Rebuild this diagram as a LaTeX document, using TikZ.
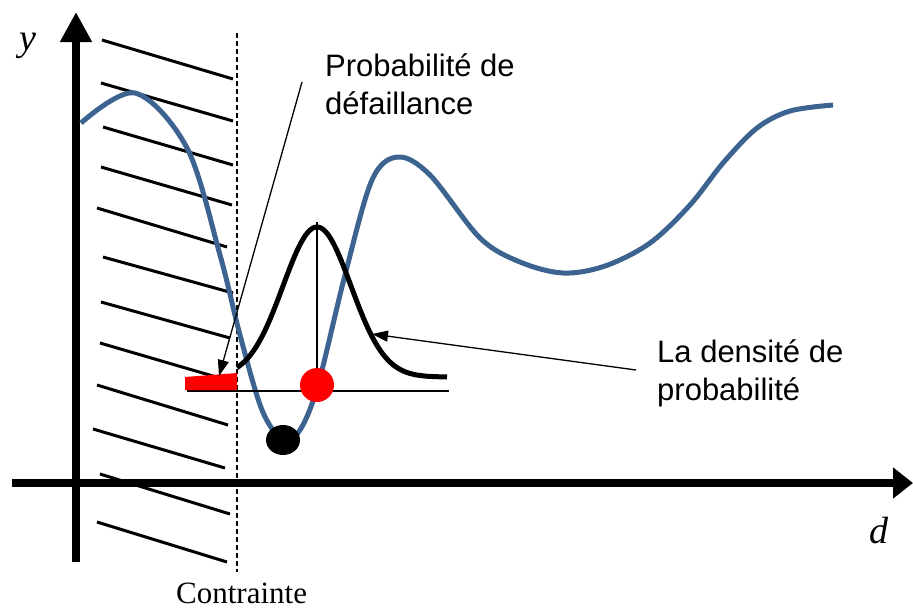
\documentclass[tikz,border=0pt]{standalone}
\usepackage{fontspec}
\setmainfont{Liberation Sans}
\newfontfamily\serifft{Liberation Serif}
\usetikzlibrary{arrows.meta}
\definecolor{curveblue}{RGB}{61,100,145}
\begin{document}
\begin{tikzpicture}[x=1pt,y=-1pt,
  axisline/.style={line width=8.5pt},
  hatchline/.style={line width=3pt},
  thinline/.style={line width=1.3pt},
  bluecurve/.style={line width=5pt, draw=curveblue},
  gausscurve/.style={line width=5pt},
  lab/.style={font=\fontsize{31}{38}\selectfont, align=left, inner sep=0pt, anchor=north west},
  mathlab/.style={font=\serifft\itshape\fontsize{38}{40}\selectfont, inner sep=0pt},
  pointer/.style={thinline, -{Triangle[length=16pt,width=11pt]}}
]
\useasboundingbox (0,0) rectangle (913,611);

% hatching
\foreach \xa/\ya/\xb/\yb in {102/40/233/79, 101/83/233/121, 103/127/233/165, 101/167/232/205,
  97/208/227/247, 103/257/233/293, 101/302/230/338, 100/343/230/381, 97/385/228/425,
  93/429/225/468, 100/474/230/514, 97/522/227/562}
  \draw[hatchline] (\xa,\ya) -- (\xb,\yb);

% constraint line
\coordinate (ctop) at (237,33);
\coordinate (cbot) at (237,572);
\draw[line width=2.5pt, dash pattern=on 5pt off 3pt] (ctop) -- (cbot);

% axes
\coordinate (yb) at (76,562);
\coordinate (yt) at (76,12);
\coordinate (xl) at (12,483);
\coordinate (xr) at (913,483);
\draw[axisline, -{Triangle[length=30pt,width=30pt]}] (yb) -- (yt);
\draw[axisline, -{Triangle[length=20pt,width=30pt]}] (xl) -- (xr);

% blue curve
\draw[bluecurve] plot[smooth, tension=0.55] coordinates {
  (81,123) (135,93) (187,148) (220,255) (240,335) (262,410) (283,440) (300,430)
  (318,385) (345,275) (372,180) (398,157) (430,175) (480,238) (520,262) (563,273)
  (605,266) (650,243) (690,205) (723,163) (757,128) (790,111) (833,105)};

% density curve
\draw[gausscurve] plot[domain=237:447, samples=120] (\x, {377-150*exp(-0.5*((\x-317)/34)^2)});

% reference lines
\coordinate (hl) at (187,391);
\coordinate (hr) at (449,391);
\coordinate (vt) at (317,222);
\coordinate (vb) at (317,385);
\draw[thinline] (hl) -- (hr);
\draw[thinline] (vt) -- (vb);

% failure region
\fill[red] (185,377) -- (237,373) -- (237,390) -- (185,390) -- cycle;

% points
\fill[red] (317,385) circle[radius=17pt];
\fill[black] (283,440) ellipse[x radius=17pt, y radius=15pt];

% labels
\node[lab] (pf) at (325,53) {Probabilité de\\défaillance};
\node[lab] (dens) at (657,339) {La densité de\\probabilité};
\node[font=\serifft\fontsize{31}{36}\selectfont, anchor=base west, inner sep=0pt] (ctr) at (176,603) {Contrainte};
\node[mathlab] (ylab) at (28,46) {y};
\node[mathlab] (dlab) at (879,531) {d};

% pointers
\coordinate (p1s) at (302,82);
\coordinate (p1e) at (219,376);
\coordinate (p2s) at (636,370);
\coordinate (p2e) at (372,334);
\draw[pointer] (p1s) -- (p1e);
\draw[pointer] (p2s) -- (p2e);
\end{tikzpicture}
\end{document}
